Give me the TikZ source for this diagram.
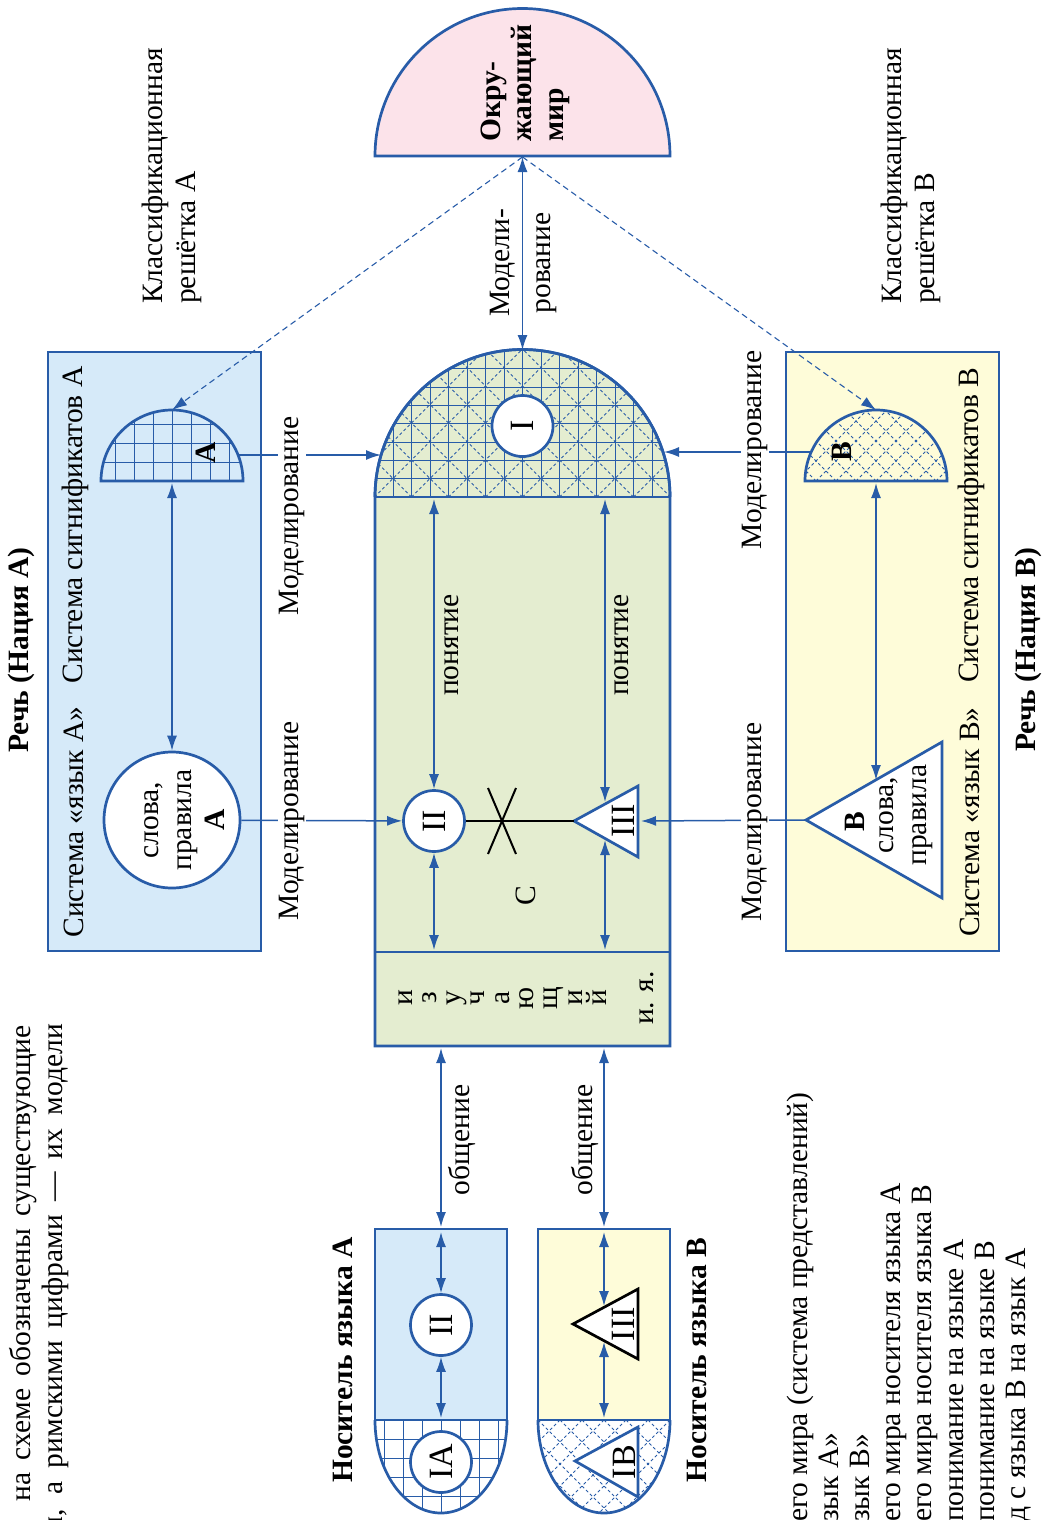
\documentclass[tikz,border=0pt]{standalone}
\usepackage{fontspec}
\setmainfont{Liberation Serif}
\usepackage{graphicx}
\usetikzlibrary{arrows.meta,positioning,calc}

\definecolor{lineblue}{RGB}{40,92,168}
\definecolor{fillblue}{RGB}{214,234,249}
\definecolor{fillgreen}{RGB}{228,237,208}
\definecolor{fillyellow}{RGB}{254,252,217}
\definecolor{fillpink}{RGB}{252,227,234}

\newcommand{\rt}[1]{\rotatebox{90}{#1}}

\tikzset{
  outl/.style={draw=lineblue, line width=2.7pt},
  biarr/.style={draw=lineblue, line width=1.5pt,
                {Latex[length=15pt,width=10pt]}-{Latex[length=15pt,width=10pt]}},
  fwdarr/.style={draw=lineblue, line width=1.5pt, -{Latex[length=15pt,width=10pt]}},
  dasharr/.style={draw=lineblue, line width=1.1pt, dash pattern=on 6pt off 4pt,
                  -{Latex[length=15pt,width=10pt]}},
  numcirc/.style={circle, draw=lineblue, line width=2.7pt, fill=white, minimum size=61pt,
                  inner sep=0pt, font=\fontsize{34}{36}\selectfont},
  numtext/.style={inner sep=0pt, font=\fontsize{34}{36}\selectfont},
  vtext/.style={rotate=90, inner sep=2pt, font=\fontsize{29.5}{33}\selectfont},
  vbold/.style={vtext, font=\fontsize{29.5}{33}\selectfont\bfseries},
  modlabel/.style={vtext, fill=white, inner sep=1pt},
  gridln/.style={draw=lineblue, line width=1pt},
  hatchln/.style={draw=lineblue, line width=0.8pt, dash pattern=on 3pt off 2.5pt},
}

\begin{document}
\begin{tikzpicture}[x=1pt, y=-1pt]
  \useasboundingbox (0,0) rectangle (1043,1520);
  \clip (0,0) rectangle (1043,1520);

  % surrounding world
  \draw[outl, fill=fillpink] (375,156) arc[start angle=180, end angle=360, radius=147.5] -- cycle;
  \coordinate (wbase) at (522.5,157);
  \node[vbold, align=left, anchor=west, font=\fontsize{29.5}{31.5}\selectfont\bfseries]
       (world) at (525,144) {Окру-\\жающий\\мир};

  % speech A panel
  \draw[outl, fill=fillblue] (48,352) rectangle (261,951);
  \begin{scope}
    \clip (101,481) arc[start angle=180, end angle=360, radius=71] -- cycle;
    \foreach \k in {-4,...,4} \draw[gridln] ({172+\k*19},481) -- ++(0,-80);
    \foreach \k in {1,...,4} \draw[gridln] (100,{481-\k*19}) -- ++(144,0);
  \end{scope}
  \draw[outl] (101,481) arc[start angle=180, end angle=360, radius=71] -- cycle;
  \node[vbold] (letA) at (206,453) {А};
  \coordinate (atop) at (172,410);
  \coordinate (achord) at (172,483);
  \coordinate (aside) at (238,455);
  \node[circle, draw=lineblue, line width=2.7pt, fill=white, minimum size=136pt,
        inner sep=0pt] (wordsA) at (172,820) {};
  \node[vtext, align=center] (wordsAtxt) at (185,820) {слова,\\правила\\\textbf{А}};
  \node[vtext] (sysA) at (74,822) {Система «язык А»};
  \node[vtext] (sigA) at (75,525) {Система сигнификатов А};
  \node[vbold] (speechA) at (21,650) {Речь (Нация А)};
  \node[vtext, align=left, anchor=west] (gridA) at (172,306) {Классификационная\\решётка А};

  % speech B panel
  \draw[outl, fill=fillyellow] (786,352) rectangle (999,951);
  \begin{scope}
    \clip (805,481) arc[start angle=180, end angle=360, radius=71] -- cycle;
    \foreach \k in {-8,...,8} {
      \draw[hatchln] ({876+\k*20},481) -- ++(80,-80);
      \draw[hatchln] ({876+\k*20},481) -- ++(-80,-80);
    }
  \end{scope}
  \draw[outl] (805,481) arc[start angle=180, end angle=360, radius=71] -- cycle;
  \node[vbold] (letB) at (842,452) {В};
  \coordinate (btop) at (876,410);
  \coordinate (bchord) at (876,483);
  \coordinate (bside) at (811,452);
  \draw[outl, fill=white] (806,820) coordinate (Bapex) -- (942,742) -- (942,898) -- cycle;
  \coordinate (Bedge) at (876,780);
  \node[vbold] (letB2) at (855,822) {В};
  \node[vtext, align=center] (wordsBtxt) at (906,815) {слова,\\правила};
  \node[vtext] (sysB) at (970,822) {Система «язык В»};
  \node[vtext] (sigB) at (971,525) {Система сигнификатов В};
  \node[vbold] (speechB) at (1028,650) {Речь (Нация В)};
  \node[vtext, align=left, anchor=west] (gridB) at (911,306) {Классификационная\\решётка В};

  % central body
  \draw[outl, fill=fillgreen] (375,1046) -- (375,497)
        arc[start angle=180, end angle=360, radius=147.5] -- (670,1046) -- cycle;
  \begin{scope}
    \clip (375,497) arc[start angle=180, end angle=360, radius=147.5] -- cycle;
    \foreach \k in {-8,...,8} \draw[gridln] ({522.5+\k*18.5},497) -- ++(0,-150);
    \foreach \k in {1,...,8} \draw[gridln] (375,{497-\k*18.3}) -- ++(295,0);
    \foreach \k in {-9,...,9} {
      \draw[hatchln] ({522.5+\k*37},497) -- ++(160,-160);
      \draw[hatchln] ({522.5+\k*37},497) -- ++(-160,-160);
    }
  \end{scope}
  \draw[outl] (375,497) arc[start angle=180, end angle=360, radius=147.5];
  \draw[outl] (375,497) -- (670,497) (375,952) -- (670,952);
  \coordinate (ctop) at (522.5,350);
  \coordinate (domeL) at (381,455);
  \coordinate (domeR) at (664,452);
  \node[numcirc] (I) at (522.5,426) {\rt{I}};

  \node[numcirc] (II) at (434,821) {\rt{II}};
  \draw[outl, fill=white] (574,821) coordinate (IIIapex) -- (638,786) -- (638,857) -- cycle;
  \node[numtext] (III) at (623,821) {\rt{III}};
  \coordinate (IIIbase) at (641,821);
  \coordinate (IIItop) at (605,802);
  \coordinate (IIIbot) at (605,840);
  \coordinate (cross) at (502,821);
  \draw[black, line width=2pt] (II) -- (IIIapex);
  \draw[black, line width=2pt] ($(cross)+(-14,-33)$) -- ($(cross)+(14,33)$)
                               ($(cross)+(14,-33)$) -- ($(cross)+(-14,33)$);

  \coordinate (ch1) at (434,499);
  \coordinate (ch2) at (605,499);
  \coordinate (mid1) at (434,950);
  \coordinate (mid2) at (605,950);
  \draw[biarr] (ch1) -- (II);
  \draw[biarr] (II) -- (mid1);
  \draw[biarr] (ch2) -- (IIItop);
  \draw[biarr] (IIIbot) -- (mid2);
  \node[vtext] (conceptA) at (452,645) {понятие};
  \node[vtext] (conceptB) at (622,645) {понятие};
  \node[vtext] (cmark) at (526,896) {С};

  % learner column
  \foreach \ch [count=\i from 0] in {и,з,у,ч,а,ю,щ,и,й}
    \node[vtext, anchor=base] (learn\i) at ({412+\i*24.3},998) {\ch};
  \node[vtext, anchor=base] (learnabbr) at (653,998) {и. я.};

  % carriers
  \draw[outl, fill=fillblue] (375,1229) rectangle (507,1420);
  \begin{scope}
    \clip (375,1420) arc[start angle=180, end angle=0, x radius=66, y radius=93] -- cycle;
    \foreach \k in {-4,...,4} \draw[gridln] ({441+\k*19},1420) -- ++(0,100);
    \foreach \k in {1,...,6} \draw[gridln] (375,{1420+\k*19}) -- ++(132,0);
  \end{scope}
  \draw[outl] (375,1420) arc[start angle=180, end angle=0, x radius=66, y radius=93];
  \node[numcirc] (IIa) at (441,1325) {\rt{II}};
  \node[numcirc] (IA) at (441,1462) {\rt{IA}};
  \node[vbold] (carrierA) at (343,1360) {Носитель языка А};

  \draw[outl, fill=fillyellow] (538,1229) rectangle (670,1420);
  \begin{scope}
    \clip (538,1420) arc[start angle=180, end angle=0, x radius=66, y radius=93] -- cycle;
    \foreach \k in {-7,...,7} {
      \draw[hatchln] ({604+\k*22},1420) -- ++(110,110);
      \draw[hatchln] ({604+\k*22},1420) -- ++(-110,110);
    }
  \end{scope}
  \draw[outl] (538,1420) arc[start angle=180, end angle=0, x radius=66, y radius=93];
  \draw[black, line width=2.7pt, fill=white] (573,1324) -- (638,1289) -- (638,1359) -- cycle;
  \node[numtext] (IIIb) at (623,1324) {\rt{III}};
  \draw[outl, fill=white] (575,1461) -- (638,1427) -- (638,1497) -- cycle;
  \node[numtext] (IB) at (624,1462) {\rt{IB}};
  \node[vbold] (carrierB) at (697,1360) {Носитель языка В};

  \coordinate (bot1) at (441,1048);
  \coordinate (bot2) at (604,1048);
  \coordinate (natop) at (441,1227);
  \coordinate (nbtop) at (604,1227);
  \coordinate (natopin) at (441,1232);
  \coordinate (nbtopin) at (604,1232);
  \coordinate (nachord) at (441,1418);
  \coordinate (nbchord) at (604,1418);
  \coordinate (IIIbtop) at (604,1306);
  \coordinate (IIIbbot) at (604,1342);
  \draw[biarr] (bot1) -- (natop);
  \draw[biarr] (bot2) -- (nbtop);
  \node[vtext] (talkA) at (462,1140) {общение};
  \node[vtext] (talkB) at (585,1140) {общение};
  \draw[biarr] (natopin) -- (IIa);
  \draw[biarr] (IIa) -- (nachord);
  \draw[biarr] (nbtopin) -- (IIIbtop);
  \draw[biarr] (IIIbbot) -- (nbchord);

  % modelling links
  \draw[biarr] (wbase) -- (ctop);
  \node[vtext, align=center] (modtop) at (523,263) {Модели-\\[8pt]рование};
  \draw[dasharr] (wbase) -- (atop);
  \draw[dasharr] (wbase) -- (btop);
  \draw[biarr] (achord) -- (wordsA);
  \draw[biarr] (bchord) -- (Bedge);
  \draw[fwdarr] (aside) -- (domeL);
  \node[modlabel] (modA1) at (292,516) {Моделирование};
  \draw[fwdarr] (wordsA) -- (II);
  \node[modlabel] (modA2) at (292,821) {Моделирование};
  \draw[fwdarr] (bside) -- (domeR);
  \node[modlabel] (modB1) at (755,450) {Моделирование};
  \draw[fwdarr] (Bapex) -- (IIIbase);
  \node[modlabel] (modB2) at (755,822) {Моделирование};

  % notes cut by the frame
  \node[vtext, anchor=base east, inner sep=0pt] (noteA) at (30,1025)
       {\makebox[476pt][s]{на схеме обозначены существующие}};
  \node[vtext, anchor=base east, inner sep=0pt] (noteB) at (62,1024)
       {\makebox[512pt][s]{ы, а римскими цифрами — их модели}};
  \foreach \t [count=\i from 0] in {его мира (система представлений), зык А», зык В»,
      его мира носителя языка А, его мира носителя языка В, понимание на языке А,
      понимание на языке В, д с языка В на язык А}
    \node[vtext, anchor=base west, inner sep=0pt] (leg\i) at ({807+\i*31.2},1522) {\t};
\end{tikzpicture}
\end{document}
